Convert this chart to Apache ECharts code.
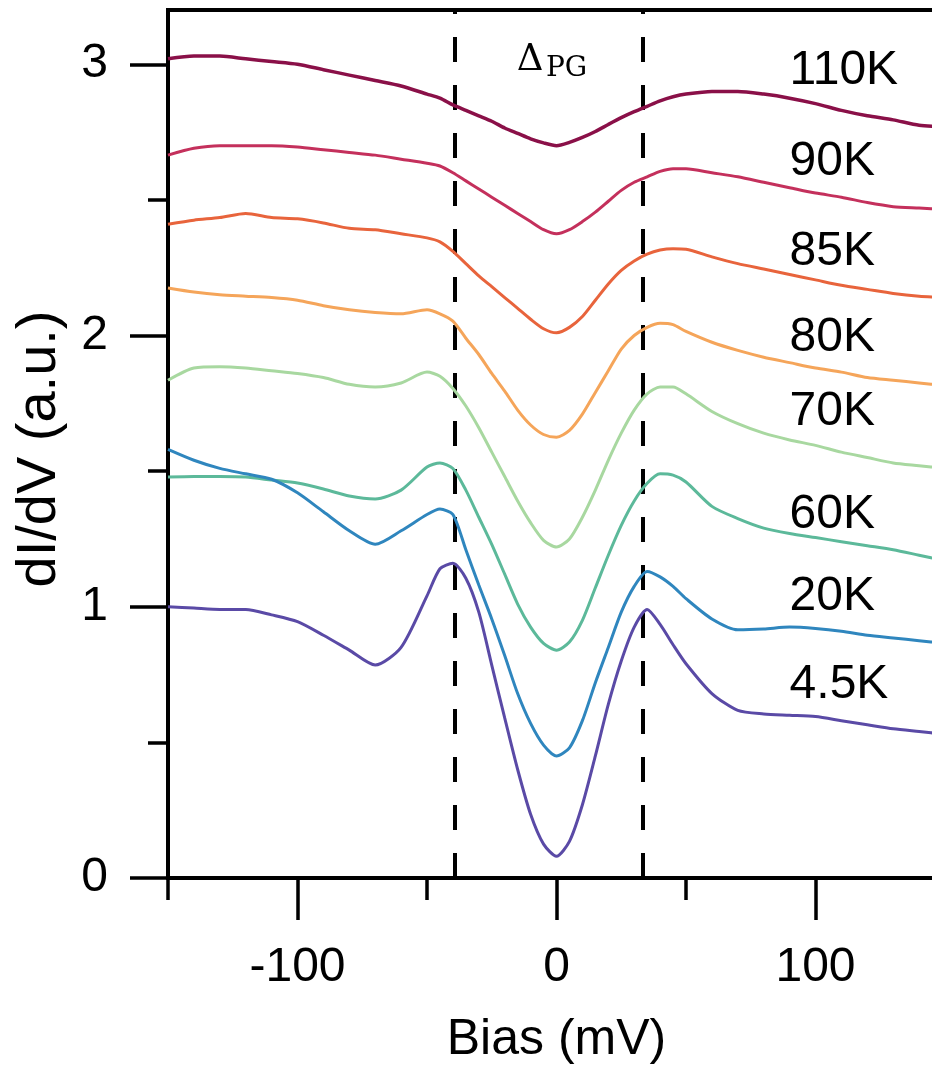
<!DOCTYPE html>
<html>
<head>
<meta charset="utf-8">
<script src="https://cdn.jsdelivr.net/npm/echarts@6/dist/echarts.min.js"></script>
<style>
html,body{margin:0;padding:0;background:#ffffff;}
#chart{width:932px;height:1073px;}
</style>
</head>
<body>
<div id="chart"></div>
<script>
// ---- data ----
const bias = [-150,-140,-130,-120,-110,-100,-90,-80,-70,-60,-50,-45,-40,-35,-30,-25,-20,-15,-10,-5,0,5,10,15,20,25,30,35,40,45,50,60,70,80,90,100,110,120,130,140,150];

const t110K = [3.02,3.03,3.03,3.02,3.01,3.00,2.98,2.96,2.94,2.92,2.89,2.875,2.85,2.83,2.81,2.79,2.765,2.745,2.725,2.71,2.70,2.712,2.73,2.752,2.778,2.803,2.825,2.845,2.865,2.88,2.89,2.90,2.90,2.89,2.875,2.855,2.83,2.81,2.795,2.775,2.77];
const t90K  = [2.665,2.69,2.70,2.70,2.70,2.695,2.685,2.675,2.665,2.65,2.635,2.625,2.60,2.57,2.54,2.51,2.48,2.45,2.42,2.39,2.375,2.39,2.42,2.455,2.495,2.535,2.565,2.585,2.605,2.615,2.615,2.60,2.585,2.565,2.545,2.525,2.51,2.49,2.475,2.47,2.465];
const t85K  = [2.41,2.425,2.435,2.45,2.435,2.43,2.415,2.395,2.39,2.375,2.36,2.345,2.31,2.265,2.22,2.18,2.14,2.10,2.06,2.025,2.01,2.03,2.07,2.13,2.19,2.24,2.275,2.30,2.315,2.32,2.318,2.29,2.265,2.245,2.225,2.205,2.185,2.17,2.155,2.145,2.14];
const t80K  = [2.175,2.16,2.15,2.145,2.14,2.13,2.11,2.095,2.085,2.08,2.095,2.08,2.053,1.99,1.93,1.86,1.795,1.725,1.67,1.635,1.625,1.65,1.71,1.79,1.87,1.95,2.00,2.03,2.045,2.04,2.015,1.975,1.945,1.92,1.90,1.88,1.865,1.845,1.835,1.825,1.815];
const t70K  = [1.835,1.88,1.885,1.88,1.87,1.86,1.845,1.82,1.81,1.825,1.865,1.85,1.805,1.74,1.66,1.57,1.48,1.39,1.31,1.245,1.22,1.25,1.33,1.43,1.54,1.64,1.725,1.785,1.81,1.81,1.785,1.72,1.675,1.64,1.615,1.595,1.57,1.55,1.53,1.52,1.51];
const t60K  = [1.478,1.48,1.48,1.478,1.467,1.456,1.434,1.408,1.397,1.43,1.515,1.53,1.51,1.43,1.33,1.23,1.12,1.01,0.925,0.865,0.84,0.87,0.95,1.07,1.19,1.30,1.39,1.455,1.49,1.485,1.46,1.37,1.325,1.29,1.27,1.255,1.24,1.225,1.21,1.19,1.17];
const t20K  = [1.58,1.54,1.51,1.49,1.47,1.42,1.35,1.28,1.23,1.28,1.34,1.36,1.34,1.21,1.08,0.955,0.82,0.68,0.57,0.49,0.45,0.48,0.58,0.72,0.85,0.98,1.075,1.13,1.11,1.075,1.03,0.955,0.915,0.918,0.925,0.92,0.91,0.895,0.885,0.875,0.865];
const t4_5K = [1.00,0.995,0.99,0.99,0.97,0.945,0.895,0.84,0.785,0.85,1.04,1.14,1.16,1.105,0.98,0.785,0.59,0.40,0.235,0.125,0.08,0.135,0.27,0.45,0.64,0.80,0.925,0.99,0.935,0.86,0.79,0.68,0.618,0.605,0.60,0.595,0.58,0.565,0.55,0.54,0.53];

const temps = ['110K','90K','85K','80K','70K','60K','20K','4.5K'];
const curves = [t110K, t90K, t85K, t80K, t70K, t60K, t20K, t4_5K];
const labelBias = [90,90,90,90,90,90,90,90];
const labelLevel = [2.975,2.64,2.307,1.99,1.718,1.338,1.036,0.711];

const gapEdges = [-39.4, 33.2];
const xMajorTicks = [-100, 0, 100];
const xMinorTicks = [-150, -50, 50, 150];
const yMajorTicks = [0, 1, 2, 3];
const yMinorTicks = [0.5, 1.5, 2.5];

const gapSymbol = 'Δ';
const gapSub = 'PG';
const gapSymbolPos = [-10.2, 3.015];
const gapSubPos = [3.9, 2.984];

// ---- styling ----
const colors = ['#8a1048','#c4305c','#e8643c','#f5a55a','#a8d8a0','#5cb99a','#2f86be','#5a4aa6'];
const SANS = "'Liberation Sans', Arial, Helvetica, sans-serif";
const SERIF = "'DejaVu Serif', 'Liberation Serif', serif";
const INK = '#000000';

const chart = echarts.init(document.getElementById('chart'), null, {renderer:'canvas'});

const lineSeries = curves.map((arr, i) => ({
  type: 'line',
  name: temps[i],
  data: bias.map((x, j) => [x, arr[j]]),
  showSymbol: false,
  smooth: 0.25,
  silent: true,
  lineStyle: {width: i === 0 ? 3.5 : 3, color: colors[i]},
  itemStyle: {color: colors[i]},
  z: 3
}));

lineSeries[0].markLine = {
  silent: true,
  symbol: ['none', 'none'],
  label: {show: false},
  lineStyle: {color: '#000', width: 4, type: [25, 23]},
  data: gapEdges.map(v => ({xAxis: v})),
  z: 2
};

const textStyleBase = {opacity: 1, textBorderWidth: 0};

const labelSeries = {
  type: 'scatter',
  silent: true,
  symbolSize: 0,
  itemStyle: {color: '#000', opacity: 1},
  data: temps.map((t, i) => ({value: [labelBias[i], labelLevel[i]], name: t})),
  label: Object.assign({
    show: true,
    position: 'right',
    distance: 0,
    formatter: p => p.name,
    fontFamily: SANS,
    fontSize: 48,
    color: INK
  }, textStyleBase),
  z: 5
};

const gapSeries = {
  type: 'scatter',
  silent: true,
  symbolSize: 0,
  itemStyle: {color: '#000', opacity: 1},
  data: [
    {value: gapSymbolPos, name: gapSymbol, label: {fontSize: 37}},
    {value: gapSubPos, name: gapSub, label: {fontSize: 28}}
  ],
  label: Object.assign({
    show: true,
    position: 'inside',
    formatter: p => p.name,
    fontFamily: SERIF,
    color: INK
  }, textStyleBase),
  z: 5
};

const axisBase = {
  type: 'value',
  splitLine: {show: false}
};

chart.setOption({
  animation: false,
  backgroundColor: '#ffffff',
  grid: {
    left: 168, top: 10, right: -13, bottom: 195,
    show: true, borderColor: '#000', borderWidth: 4,
    containLabel: false, outerBoundsMode: 'none'
  },
  xAxis: [
    Object.assign({}, axisBase, {
      min: -150, max: 150, position: 'bottom',
      axisLine: {show: true, onZero: false, lineStyle: {color: '#000', width: 4}},
      axisTick: {show: true, customValues: xMajorTicks, length: 42, lineStyle: {color: '#000', width: 3.5}},
      axisLabel: {show: true, customValues: xMajorTicks, margin: 66, fontFamily: SANS, fontSize: 48, color: INK},
      name: 'Bias (mV)', nameLocation: 'middle', nameGap: 137,
      nameTextStyle: {fontFamily: SANS, fontSize: 50, color: INK}
    }),
    Object.assign({}, axisBase, {
      min: -150, max: 150, position: 'bottom', offset: 0,
      axisLine: {show: false, onZero: false},
      axisTick: {show: true, customValues: xMinorTicks, length: 22, lineStyle: {color: '#000', width: 3.5}},
      axisLabel: {show: false}
    })
  ],
  yAxis: [
    Object.assign({}, axisBase, {
      min: 0, max: 3.2, position: 'left',
      axisLine: {show: true, onZero: false, lineStyle: {color: '#000', width: 4}},
      axisTick: {show: true, customValues: yMajorTicks, length: 38, lineStyle: {color: '#000', width: 3.5}},
      axisLabel: {show: true, customValues: yMajorTicks, margin: 60, fontFamily: SANS, fontSize: 48, color: INK},
      name: 'dI/dV (a.u.)', nameLocation: 'middle', nameGap: 100,
      nameTextStyle: {fontFamily: SANS, fontSize: 56, color: INK, padding: [0, 10, 0, 0]}
    }),
    Object.assign({}, axisBase, {
      min: 0, max: 3.2, position: 'left', offset: 0,
      axisLine: {show: false, onZero: false},
      axisTick: {show: true, customValues: yMinorTicks, length: 20, lineStyle: {color: '#000', width: 3.5}},
      axisLabel: {show: false}
    })
  ],
  series: lineSeries.concat([labelSeries, gapSeries])
});
</script>
</body>
</html>
